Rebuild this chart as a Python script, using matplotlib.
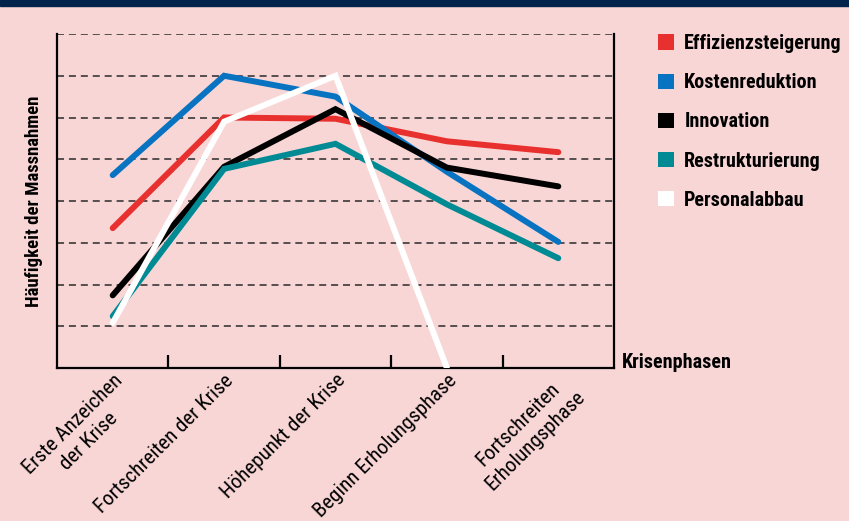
import numpy as np
import matplotlib.pyplot as plt
from matplotlib import font_manager
from matplotlib.patches import Patch, Rectangle

# prefer a narrow sans if one is around
available = {(f.name, f.stretch) for f in font_manager.fontManager.ttflist}
names = {n for n, _ in available}
family, stretch = 'Lato', 'normal'
for cand in ['Liberation Sans Narrow', 'Roboto Condensed', 'Open Sans Condensed']:
    if cand in names:
        family = cand
        break
else:
    for n, s in available:
        if n == 'DejaVu Sans' and s in ('condensed', 'semi-condensed', 75, 87):
            family, stretch = 'DejaVu Sans', 'condensed'
            break
plt.rcParams['font.family'] = [family, 'DejaVu Sans']
plt.rcParams['font.stretch'] = stretch
narrow = family != 'Lato'

phases = ['Erste Anzeichen\nder Krise', 'Fortschreiten der Krise', 'Höhepunkt der Krise',
          'Beginn Erholungsphase', 'Fortschreiten\nErholungsphase']

effizienz = [3.35, 6.0, 5.97, 5.43, 5.17]
kosten = [4.62, 7.0, 6.5, 4.7, 3.02]
innovation = [1.74, 4.82, 6.2, 4.8, 4.35]
restrukt = [1.24, 4.77, 5.37, 3.92, 2.63]
personal = [1.08, 5.9, 7.0, 0.0, np.nan]

series = [
    ('Effizienzsteigerung', effizienz, '#e8312f'),
    ('Kostenreduktion', kosten, '#0873c1'),
    ('Innovation', innovation, '#000000'),
    ('Restrukturierung', restrukt, '#008a93'),
    ('Personalabbau', personal, '#ffffff'),
]
draw_order = [0, 1, 3, 2, 4]

fs_tick = 15 if narrow else 11
fs_bold = 14.5 if narrow else 11.5
fs_ylab = 13.5 if narrow else 11.5

bg = '#f9d6d6'
fig = plt.figure(figsize=(8.49, 5.21), dpi=100, facecolor=bg)
ax = fig.add_axes([57/849, 1 - 368/521, (614 - 57)/849, (368 - 34)/521])
ax.set_facecolor(bg)

# dark header strip
fig.patches.append(Rectangle((0, 1 - 6/521), 1, 6/521, transform=fig.transFigure,
                             color='#00234b', zorder=0))

x = np.arange(len(phases))
for i in draw_order:
    name, vals, col = series[i]
    ax.plot(x, vals, color=col, lw=4.3, solid_capstyle='round',
            solid_joinstyle='miter', zorder=3 + i)

ax.set_xlim(-0.5, 4.5)
ax.set_ylim(0, 8)

# dashed horizontal guides
for yv in range(1, 9):
    ax.axhline(yv, color='#2a2a2a', lw=1.1, ls=(0, (4.6, 3.2)), zorder=1)

for s in ['left', 'bottom', 'right']:
    ax.spines[s].set_linewidth(1.6)
    ax.spines[s].set_color('black')
ax.spines['top'].set_visible(False)

ax.set_yticks([])
ax.set_xticks(x)
ax.set_xticklabels(phases, rotation=45, ha='right', va='top', rotation_mode='anchor',
                   fontsize=fs_tick, multialignment='center', linespacing=1.3)
ax.tick_params(axis='x', length=0, pad=2)
ax.set_xticks(x[:-1] + 0.5, minor=True)
ax.tick_params(axis='x', which='minor', direction='in', length=9.5, width=1.6)

ax.set_ylabel('Häufigkeit der Massnahmen', fontsize=fs_ylab, fontweight='bold', labelpad=10)

fig.text(622/849, 1 - 362/521, 'Krisenphasen', fontsize=fs_bold, fontweight='bold',
         va='center', ha='left')

handles = [Patch(facecolor=c, edgecolor='none', label=n) for n, _, c in series]
fig.legend(handles=handles, loc='upper left', bbox_to_anchor=(640/849, 1 - 16/521),
           frameon=False, handlelength=0.8, handleheight=0.8,
           handletextpad=0.5, labelspacing=1.0, prop={'weight': 'bold', 'size': fs_bold})

fig.savefig('out.png', dpi=100, facecolor=bg)
